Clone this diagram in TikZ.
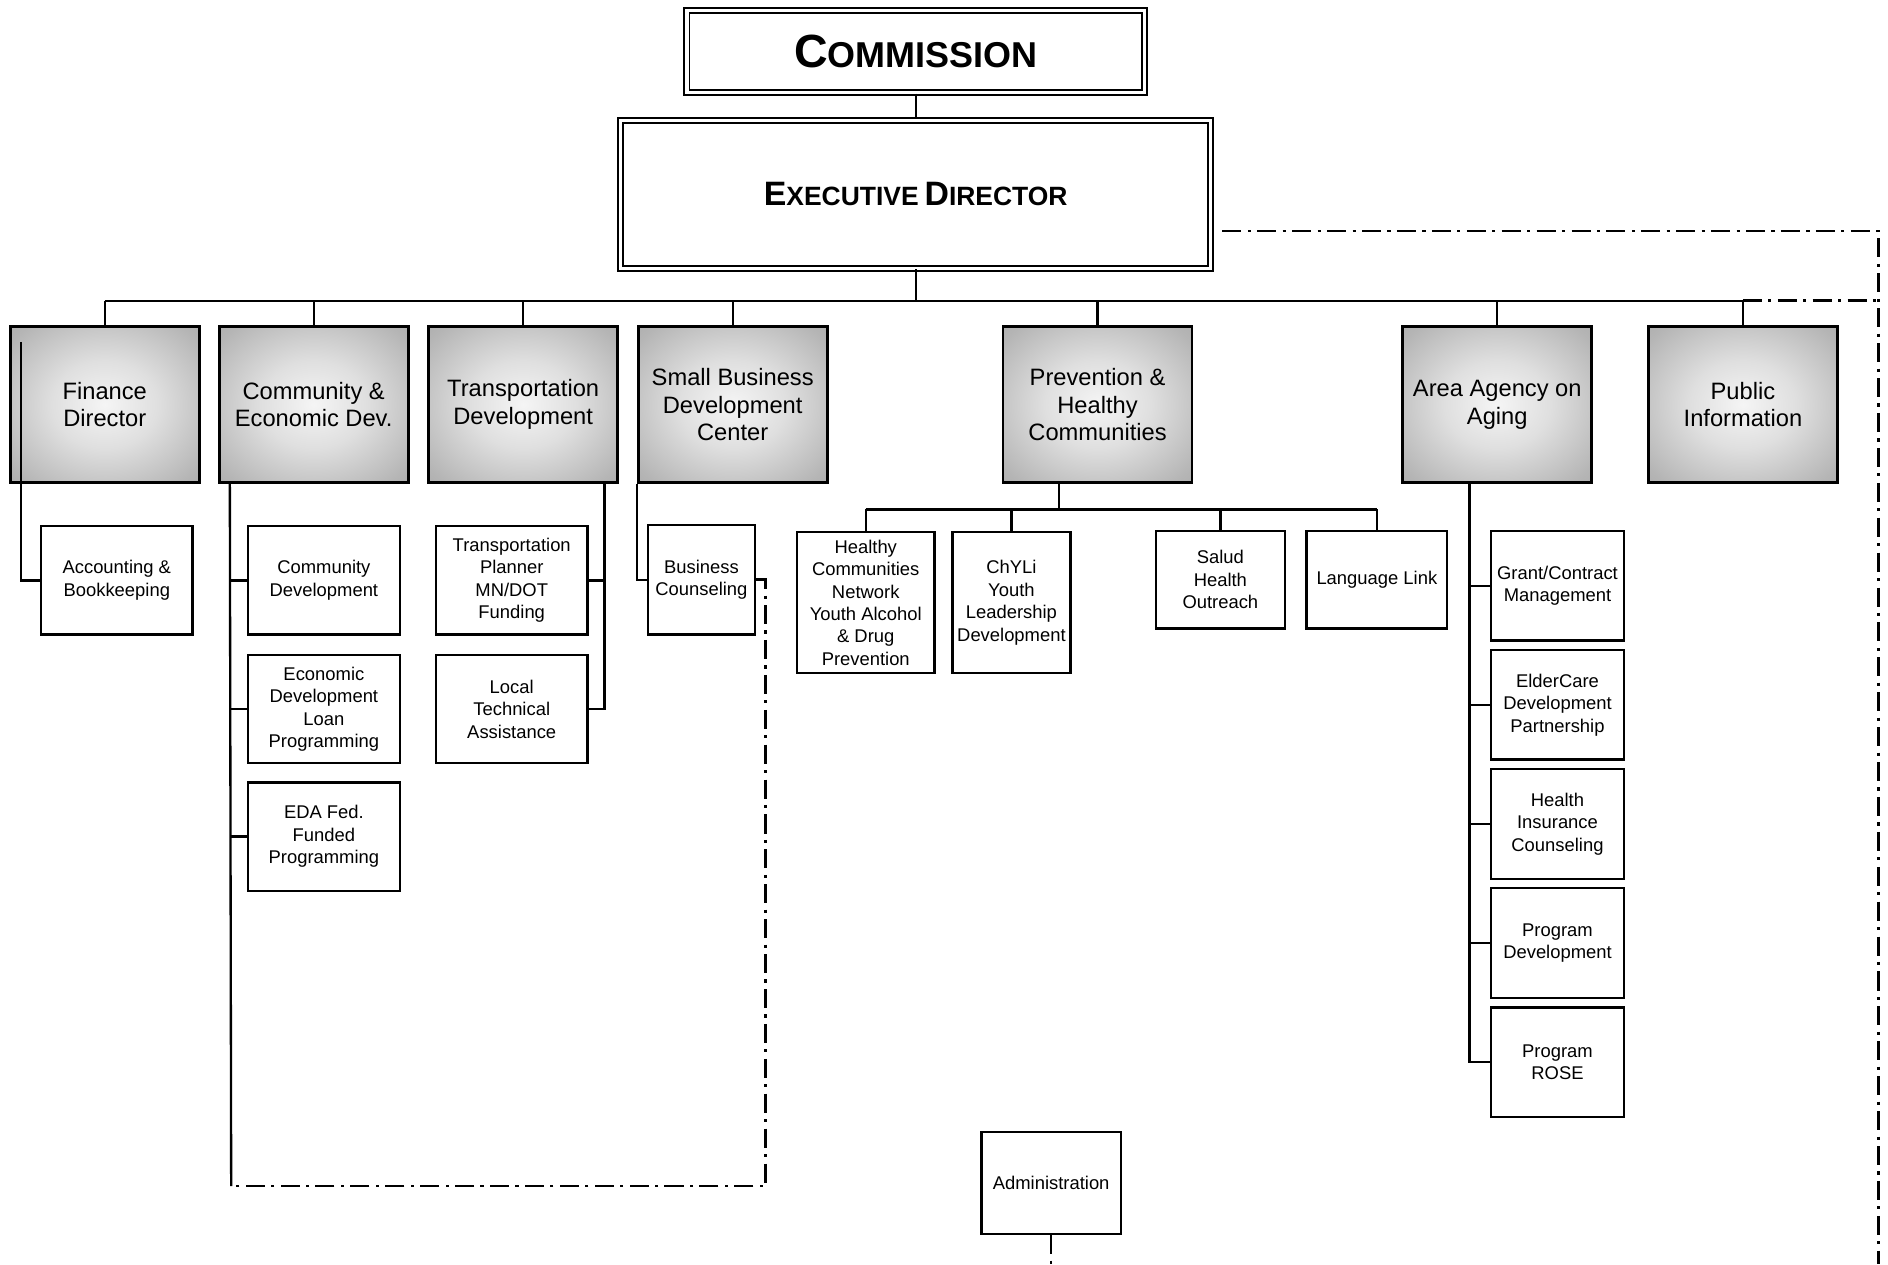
\documentclass[tikz,border=0pt]{standalone}
\usepackage{fontspec}
\setmainfont{Liberation Sans}
\usetikzlibrary{
    calc,
    positioning,
    shadings
}
\pgfdeclareradialshading{hdrglow}{\pgfpoint{0bp}{0bp}}{%
    color(0bp)=(gray!8);
    color(14bp)=(gray!25);
    color(32bp)=(gray!58);
    color(50bp)=(gray!80)}
\tikzset{
    every picture/.style = {
        line width = 1.1pt
    },
    every node/.style = {
        inner sep = 1pt,
        align = center
    },
    topbox/.style = {
        draw,
        double,
        line width = 0.9pt,
        double distance = 1.5pt,
        inner sep = 0pt
    },
    hdr/.style = {
        draw,
        line width = 1.3pt,
        shading = hdrglow,
        minimum width = 3.14cm,
        minimum height = 2.6cm,
        font = \fontsize{11.2}{13.2}\selectfont
    },
    sub/.style = {
        draw,
        fill = white,
        minimum width = 2.52cm,
        minimum height = 1.8cm,
        font = \fontsize{8.7}{10.6}\selectfont
    },
    agesub/.style = {
        sub,
        minimum width = 2.22cm,
        minimum height = 1.82cm
    },
    dashdot/.style = {
        line width = 1.2pt,
        dash pattern = on 9pt off 3pt on 1.5pt off 3pt
    }
}

\begin{document}
\begin{tikzpicture}[x=0.02cm, y=-0.02cm]
    \useasboundingbox (0,0) rectangle (1568,1050);

    % top of the chart
    \node[topbox, minimum width=7.6cm, minimum height=1.36cm] (comm) at (760.5,43)
        {\bfseries{\fontsize{22}{24}\selectfont C}{\fontsize{17}{20}\selectfont OMMISSION}};
    \node[topbox, minimum width=9.8cm, minimum height=2.46cm] (exec) at (760.5,161.5)
        {\bfseries{\fontsize{16}{18}\selectfont E}{\fontsize{12.5}{15}\selectfont XECUTIVE}
         {\fontsize{16}{18}\selectfont D}{\fontsize{12.5}{15}\selectfont IRECTOR}};
    \draw (comm.south) -- (exec.north);

    % department heads
    \foreach \xx/\nm/\txt in {
        87/fin/{Finance\\Director},
        260.5/ced/{Community \&\\Economic Dev.},
        434.5/trans/{Transportation\\Development},
        608.5/sbdc/{Small Business\\Development\\Center},
        911.5/phc/{Prevention \&\\Healthy\\Communities},
        1243.5/aaa/{Area Agency on\\Aging},
        1447.5/pub/{Public\\Information}} {
        \node[hdr] (\nm) at (\xx,336) {\txt};
    }

    % bus under the director
    \draw (exec.south) -- ++(0,26) coordinate (busmid);
    \draw (fin.north |- busmid) -- (pub.north |- busmid);
    \foreach \nm in {fin,ced,trans,sbdc,phc,aaa,pub}
        \draw (\nm.north) -- (\nm.north |- busmid);

    % finance
    \node[sub] (acct) at (97,482) {Accounting \&\\Bookkeeping};
    \draw ($(fin.north west)+(10,14)$) |- (acct.west);

    % community and economic development
    \node[sub] (cdev) at (269,482) {Community\\Development};
    \node[sub, below=0.3cm of cdev] (edlp) {Economic\\Development\\Loan\\Programming};
    \node[sub, below=0.28cm of edlp] (eda) {EDA Fed.\\Funded\\Programming};
    \coordinate (cedl) at ($(ced.south west)+(10,0)$);
    \coordinate (cedend) at (192,985);
    \draw (cedl) -- (cedend);
    \foreach \nm in {cdev,edlp,eda}
        \draw (\nm.west) -- (\nm.west -| cedl);

    % transportation
    \node[sub] (tplan) at (425,482) {Transportation\\Planner\\MN/DOT\\Funding};
    \node[sub, below=0.3cm of tplan] (ltech) {Local\\Technical\\Assistance};
    \draw ($(trans.south east)+(-12,0)$) coordinate (trl) |- (ltech.east);
    \draw (tplan.east) -- (tplan.east -| trl);

    % small business
    \node[sub, minimum width=1.78cm, minimum height=1.82cm] (busc) at (582.5,481.5)
        {Business\\Counseling};
    \draw (sbdc.south west) |- (busc.west);
    \draw[dashdot] (busc.east) -- ++(8,0) |- (cedend);

    % prevention and healthy communities
    \node[sub, minimum width=2.28cm, minimum height=2.34cm] (hcn) at (719,500.5)
        {Healthy\\Communities\\Network\\Youth Alcohol\\\& Drug\\Prevention};
    \node[sub, minimum width=1.96cm, minimum height=2.34cm] (chyli) at (840,500.5)
        {ChYLi\\Youth\\Leadership\\Development};
    \node[sub, minimum width=2.14cm, minimum height=1.62cm] (salud) at (1013.5,481.5)
        {Salud\\Health\\Outreach};
    \node[sub, minimum width=2.34cm, minimum height=1.62cm] (llink) at (1143.5,481.5)
        {Language Link};
    \draw ($(phc.south)+(-32,0)$) -- ++(0,21) coordinate (pb);
    \draw (hcn.north |- pb) -- (llink.north |- pb);
    \foreach \nm in {hcn,chyli,salud,llink}
        \draw (\nm.north) -- (\nm.north |- pb);

    % area agency on aging
    \node[agesub] (gcm) at (1293.5,486.5) {Grant/Contract\\Management};
    \node[agesub, below=0.12cm of gcm] (ecdp) {ElderCare\\Development\\Partnership};
    \node[agesub, below=0.12cm of ecdp] (hic) {Health\\Insurance\\Counseling};
    \node[agesub, below=0.12cm of hic] (pdev) {Program\\Development};
    \node[agesub, below=0.12cm of pdev] (rose) {Program\\ROSE};
    \draw ($(aaa.south)+(-23,0)$) coordinate (al) |- (rose.west);
    \foreach \nm in {gcm,ecdp,hic,pdev}
        \draw (\nm.west) -- (\nm.west -| al);

    % staff line on the right
    \coordinate (rt) at (1560,192);
    \coordinate (rb) at (1560,1050);
    \draw[dashdot] ($(exec.east |- rt)+(9,0)$) -- (rt) -- (rb);
    \draw[dashdot] (pub.north |- busmid) -- (rt |- busmid);

    % administration
    \node[sub, minimum width=2.32cm, minimum height=1.7cm] (adm) at (873,982.5)
        {Administration};
    \draw[dashdot] (adm.south) -- (adm.south |- rb);
\end{tikzpicture}
\end{document}
